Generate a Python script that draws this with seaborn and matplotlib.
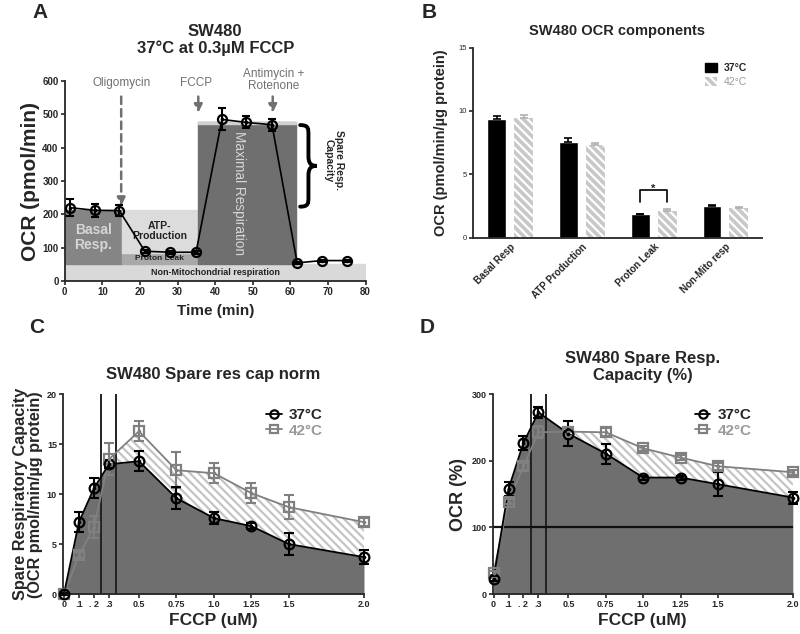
import numpy as np
import pandas as pd
import matplotlib
matplotlib.use("Agg")
import matplotlib.pyplot as plt
from matplotlib.patches import Rectangle, Patch, PathPatch
from matplotlib.path import Path
from matplotlib.lines import Line2D
import seaborn as sns

sns.set_style("ticks")
plt.rcParams['font.family'] = ['Liberation Sans', 'DejaVu Sans']
plt.rcParams['hatch.linewidth'] = 1.6

# ---- Panel A: Seahorse trace ----
time_min = [1.3, 8, 14.5, 21.3, 28, 34.9, 41.8, 48.3, 55.1, 61.8, 68.3, 75.1]
ocr_trace = [220, 212, 211, 89, 86, 86, 485, 476, 469, 54, 61, 61]
ocr_trace_err = [25, 20, 17, 5, 4, 4, 33, 18, 18, 3, 3, 3]

# ---- Panel B: OCR components ----
components = ["Basal Resp", "ATP Production", "Proton Leak", "Non-Mito resp"]
ocr_37 = [9.34, 7.55, 1.84, 2.50]
ocr_37_err = [0.29, 0.29, 0.05, 0.06]
ocr_42 = [9.42, 7.30, 2.14, 2.38]
ocr_42_err = [0.30, 0.18, 0.10, 0.06]

# ---- Panels C/D: FCCP titration ----
fccp = [0, 0.1, 0.2, 0.3, 0.5, 0.75, 1.0, 1.25, 1.5, 2.0]
fccp_ticks = ["0", ".1", ". 2", ".3", "0.5", "0.75", "1.0", "1.25", "1.5", "2.0"]
src_37 = [0, 7.2, 10.6, 13.0, 13.3, 9.6, 7.6, 6.8, 5.0, 3.7]
src_37_err = [0.1, 1.0, 1.0, 0.4, 1.0, 1.1, 0.6, 0.3, 1.1, 0.7]
src_42 = [0, 3.9, 6.7, 13.5, 16.3, 12.4, 12.1, 10.1, 8.7, 7.2]
src_42_err = [0.1, 0.3, 1.1, 1.6, 1.0, 1.8, 1.0, 1.0, 1.2, 0.4]
pct_37 = [23, 158, 227, 273, 241, 211, 175, 175, 165, 145]
pct_37_err = [3, 10, 10, 8, 19, 15, 3, 3, 18, 9]
pct_42 = [32, 139, 192, 243, 244, 243, 219, 205, 192, 183]
pct_42_err = [3, 4, 5, 9, 6, 6, 4, 4, 5, 4]

DARK = '#6f6f6f'
GRAY42 = '#808080'
GRAYTXT = '#9a9a9a'

fig = plt.figure(figsize=(8, 6.34), dpi=100)

def style_ax(ax, tick_size=7, bold=True):
    sns.despine(ax=ax)
    for s in ['left', 'bottom']:
        ax.spines[s].set_linewidth(1.3)
    ax.tick_params(width=1.2, length=3, labelsize=tick_size, pad=1.5)
    if bold:
        for lab in ax.get_xticklabels() + ax.get_yticklabels():
            lab.set_fontweight('bold')

def dot_markers(ax, x, y, color, marker, ms):
    ax.plot(x, y, linestyle='none', marker=marker, ms=ms, mfc='none',
            mec=color, mew=1.6, zorder=6, clip_on=False)
    ax.plot(x, y, linestyle='none', marker='o', ms=1.6, color=color,
            zorder=7, clip_on=False)

def brace(ax, x0, yb, yt, w):
    H = yt - yb
    ym = (yt + yb) / 2
    xm = x0 + 0.5 * w
    verts = [(x0, yt),
             (xm, yt), (xm, yt - 0.04 * H), (xm, yt - 0.12 * H),
             (xm, ym + 0.12 * H),
             (xm, ym + 0.03 * H), (x0 + 0.65 * w, ym), (x0 + w, ym),
             (x0 + 0.65 * w, ym), (xm, ym - 0.03 * H), (xm, ym - 0.12 * H),
             (xm, yb + 0.12 * H),
             (xm, yb + 0.04 * H), (xm, yb), (x0, yb)]
    codes = [Path.MOVETO,
             Path.CURVE4, Path.CURVE4, Path.CURVE4,
             Path.LINETO,
             Path.CURVE4, Path.CURVE4, Path.CURVE4,
             Path.CURVE4, Path.CURVE4, Path.CURVE4,
             Path.LINETO,
             Path.CURVE4, Path.CURVE4, Path.CURVE4]
    ax.add_patch(PathPatch(Path(verts, codes), facecolor='none', edgecolor='black',
                           lw=2.8, clip_on=False, capstyle='round', zorder=5))

# ================= A =================
axA = fig.add_axes([0.081, 0.557, 0.376, 0.315])
axA.add_patch(Rectangle((0, 0), 80, 50, color='#d9d9d9', zorder=1))
axA.add_patch(Rectangle((0, 50), 15.2, 162, color='#858585', zorder=1))
axA.add_patch(Rectangle((15.2, 50), 20.3, 34, color='#a9a9a9', zorder=1))
axA.add_patch(Rectangle((15.2, 84), 20.3, 128, color='#dcdcdc', zorder=1))
axA.add_patch(Rectangle((35.5, 50), 26, 427, color=DARK, zorder=1))
axA.add_patch(Rectangle((35.5, 472), 26, 5, color='#d0d0d0', zorder=1))
axA.text(40, 25, "Non-Mitochondrial respiration", ha='center', va='center',
         fontsize=6.5, fontweight='bold', color='#222222', zorder=2)
axA.text(7.6, 131, "Basal\nResp.", ha='center', va='center', fontsize=10,
         fontweight='bold', color='#d6d6d6', zorder=2, linespacing=1.05)
axA.text(25.3, 67, "Proton Leak", ha='center', va='center', fontsize=6,
         fontweight='bold', color='#222222', zorder=2)
axA.text(25.3, 150, "ATP-\nProduction", ha='center', va='center', fontsize=7.5,
         fontweight='bold', color='#222222', zorder=2, linespacing=1.1)
axA.text(46.2, 265, "Maximal Respiration", ha='center', va='center', rotation=-90,
         fontsize=9.8, color='#d6d6d6', zorder=2)
sns.lineplot(x=time_min, y=ocr_trace, color='black', lw=1.2, ax=axA, zorder=4)
axA.errorbar(time_min, ocr_trace, yerr=ocr_trace_err, fmt='none', ecolor='black',
             elinewidth=1.5, capsize=3, capthick=1.5, zorder=5)
dot_markers(axA, time_min, ocr_trace, 'black', 'o', 6.5)
# injections
for xi, ytip in [(15, 217), (35.5, 497), (55.3, 497)]:
    axA.annotate("", xy=(xi, ytip), xytext=(xi, 562),
                 arrowprops=dict(arrowstyle='-|>', color='#707070', lw=1.8,
                                 ls=(0, (3, 2)), mutation_scale=12))
axA.text(15, 594, "Oligomycin", ha='center', va='center', fontsize=8.5, color='#707070')
axA.text(35, 594, "FCCP", ha='center', va='center', fontsize=8.5, color='#707070')
axA.text(55.5, 602, "Antimycin +\nRotenone", ha='center', va='center', fontsize=8.5,
         color='#707070', linespacing=1.0)
brace(axA, 62.6, 223, 468, 4.4)
axA.text(71.6, 362, "Spare Resp.\nCapacity", ha='center', va='center', rotation=-90,
         fontsize=7.5, fontweight='bold', linespacing=1.0)
axA.set_xlim(0, 80)
axA.set_ylim(0, 600)
axA.set_xticks(range(0, 81, 10))
axA.set_yticks(range(0, 601, 100))
axA.set_xlabel("Time (min)", fontsize=11, fontweight='bold', labelpad=5)
axA.set_ylabel("OCR (pmol/min)", fontsize=15, fontweight='bold', labelpad=2)
axA.set_title("SW480\n37°C at 0.3µM FCCP", fontsize=12, fontweight='bold', pad=20,
              linespacing=1.15)
style_ax(axA, tick_size=7)

# ================= B =================
axB = fig.add_axes([0.591, 0.625, 0.3615, 0.30])
dfB = pd.DataFrame({
    "component": components * 2,
    "ocr": ocr_37 + ocr_42,
    "temp": ["37°C"] * 4 + ["42°C"] * 4,
})
sns.barplot(data=dfB, x="component", y="ocr", hue="temp", order=components,
            palette={"37°C": "black", "42°C": "#c8c8c8"}, errorbar=None,
            width=0.75, gap=0.3, saturation=1, legend=False, ax=axB)
x37 = [r.get_x() + r.get_width() / 2 for r in axB.containers[0]]
x42 = [r.get_x() + r.get_width() / 2 for r in axB.containers[1]]
for r in axB.containers[1]:
    r.set_hatch('\\\\\\\\')
    r.set_edgecolor('white')
    r.set_linewidth(0)
axB.errorbar(x37, ocr_37, yerr=[[0] * 4, ocr_37_err], fmt='none', ecolor='black',
             elinewidth=1.2, capsize=3, capthick=1.2, zorder=5)
axB.errorbar(x42, ocr_42, yerr=[[0] * 4, ocr_42_err], fmt='none', ecolor='#b0b0b0',
             elinewidth=1.2, capsize=3, capthick=1.2, zorder=5)
# significance bracket
axB.plot([x37[2], x37[2], x42[2], x42[2]], [2.8, 3.75, 3.75, 2.8], color='black', lw=1.2)
axB.text((x37[2] + x42[2]) / 2, 3.85, "*", ha='center', va='center', fontsize=8,
         fontweight='bold')
axB.set_xlim(-0.52, 3.51)
axB.set_ylim(0, 15)
axB.set_yticks([0, 5, 10, 15])
axB.set_xlabel("")
axB.set_ylabel("OCR (pmol/min/µg protein)", fontsize=10.5, fontweight='bold', labelpad=7)
axB.set_title("SW480 OCR components", fontsize=10.5, fontweight='bold', pad=9)
style_ax(axB, tick_size=5.5, bold=False)
axB.tick_params(axis='x', length=0, labelsize=7, pad=3)
for lab in axB.get_xticklabels():
    lab.set_rotation(45)
    lab.set_ha('right')
    lab.set_rotation_mode('anchor')
    lab.set_fontweight('bold')
hB = [Patch(facecolor='black', edgecolor='black'),
      Patch(facecolor='#c8c8c8', edgecolor='white', hatch='\\\\\\\\', lw=0)]
legB = axB.legend(hB, ["37°C", "42°C"], loc='upper right', frameon=False,
                  fontsize=7.5, handlelength=1.2, handleheight=1.0,
                  bbox_to_anchor=(0.98, 0.97), handletextpad=0.6, labelspacing=0.4)
legB.get_texts()[0].set_fontweight('bold')
legB.get_texts()[1].set_color(GRAYTXT)

# ================= C & D =================
def titration(ax, y37, e37, y42, e42, ylim, yticks, ylabel, title, ylabel_size,
              title_pad, leg_x):
    y37a = np.array(y37, dtype=float)
    y42a = np.array(y42, dtype=float)
    ax.fill_between(fccp, 0, y37a, color=DARK, lw=0, zorder=1)
    ax.fill_between(fccp, y37a, y42a, where=y42a > y37a, interpolate=True,
                    facecolor='white', edgecolor='#c4c4c4', hatch='\\\\\\\\',
                    lw=0, zorder=1)
    for xv in [0.25, 0.35]:
        ax.axvline(xv, ymin=0, ymax=1, color='#222222', lw=1.4, zorder=2)
    sns.lineplot(x=fccp, y=y42, color=GRAY42, lw=1.3, ax=ax, zorder=3)
    sns.lineplot(x=fccp, y=y37, color='black', lw=1.3, ax=ax, zorder=4)
    ax.errorbar(fccp, y42, yerr=e42, fmt='none', ecolor=GRAY42, elinewidth=1.5,
                capsize=3.5, capthick=1.5, zorder=5, clip_on=False)
    ax.errorbar(fccp, y37, yerr=e37, fmt='none', ecolor='black', elinewidth=1.5,
                capsize=3.5, capthick=1.5, zorder=5, clip_on=False)
    dot_markers(ax, fccp, y42, GRAY42, 's', 6.5)
    dot_markers(ax, fccp, y37, 'black', 'o', 7)
    ax.set_xlim(-0.005, 2.0)
    ax.set_ylim(*ylim)
    ax.set_xticks(fccp)
    ax.set_xticklabels(fccp_ticks)
    ax.set_yticks(yticks)
    ax.set_xlabel("FCCP (uM)", fontsize=12.5, fontweight='bold', labelpad=3)
    ax.set_ylabel(ylabel, fontsize=ylabel_size, fontweight='bold', labelpad=3,
                  linespacing=1.0)
    ax.set_title(title, fontsize=12, fontweight='bold', pad=title_pad, linespacing=1.2)
    style_ax(ax, tick_size=6.5)
    h = [Line2D([], [], color='black', lw=1.3, marker='o', ms=6, mfc='none', mew=1.6),
         Line2D([], [], color=GRAY42, lw=1.3, marker='s', ms=6, mfc='none', mew=1.6)]
    leg = ax.legend(h, ["37°C", "42°C"], loc='upper right', frameon=False,
                    fontsize=11, handlelength=1.0, handletextpad=0.5,
                    labelspacing=0.1, bbox_to_anchor=(leg_x, 1.0))
    leg.get_texts()[0].set_fontweight('bold')
    leg.get_texts()[1].set_color(GRAYTXT)
    leg.get_texts()[1].set_fontweight('bold')

axC = fig.add_axes([0.079, 0.063, 0.376, 0.315])
titration(axC, src_37, src_37_err, src_42, src_42_err, (0, 20), [0, 5, 10, 15, 20],
          "Spare Respiratory Capacity\n(OCR pmol/min/µg protein)",
          "SW480 Spare res cap norm", 11.7, 11, 0.91)

axD = fig.add_axes([0.616, 0.063, 0.375, 0.315])
titration(axD, pct_37, pct_37_err, pct_42, pct_42_err, (0, 300), [0, 100, 200, 300],
          "OCR (%)", "SW480 Spare Resp.\nCapacity (%)", 13, 10, 0.91)
axD.plot([0, 2.0], [100, 100], color='#111111', lw=1.6, zorder=2)

# panel letters
for lbl, xx, yy in [("A", 0.04, 0.995), ("B", 0.527, 0.995),
                    ("C", 0.036, 0.499), ("D", 0.525, 0.499)]:
    fig.text(xx, yy, lbl, fontsize=15, fontweight='bold', ha='left', va='top')

fig.savefig("out.png", dpi=100)
